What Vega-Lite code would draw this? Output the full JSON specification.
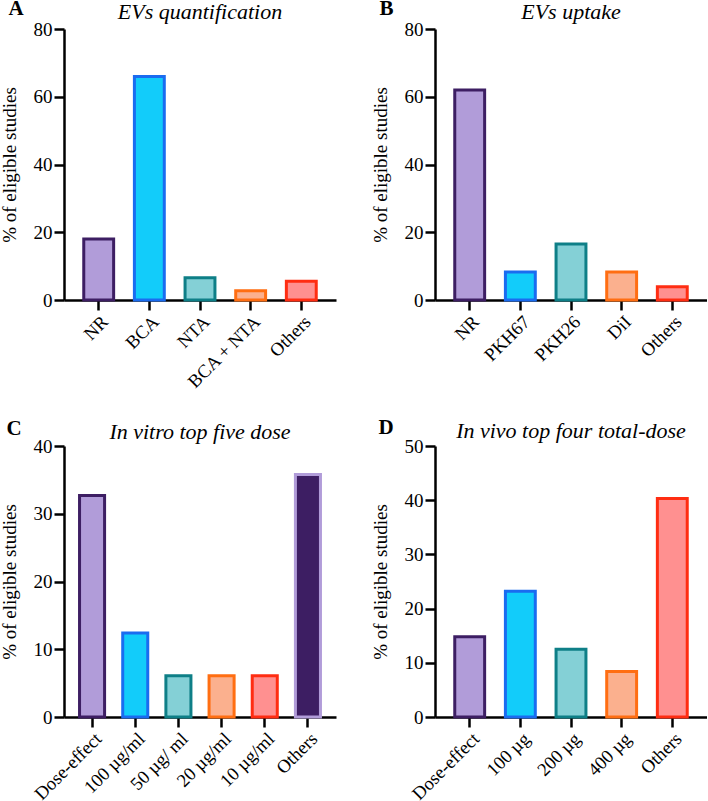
{
  "$schema": "https://vega.github.io/schema/vega-lite/v6.json",
  "background": "white",
  "padding": {"left": 0, "top": -3, "right": 0, "bottom": 0},
  "columns": 2,
  "spacing": {"row": 146, "column": 99},
  "bounds": "flush",
  "config": {
    "font": "Liberation Serif",
    "view": {"stroke": null},
    "title": {"font": "Liberation Serif", "fontSize": 22, "fontStyle": "italic", "fontWeight": "normal", "color": "black", "anchor": "middle", "frame": "group", "baseline": "alphabetic", "offset": -27},
    "axis": {"domainColor": "black", "domainWidth": 2.5, "tickColor": "black", "tickWidth": 2.5, "tickSize": 10, "labelFont": "Liberation Serif", "labelFontSize": 19, "labelColor": "black", "titleFont": "Liberation Serif", "titleFontSize": 19, "titleFontWeight": "normal", "titleColor": "black", "grid": false, "labelPadding": 2},
    "axisX": {"labelAngle": -45, "labelFontSize": 18.5, "titleAngle": 0, "titleAlign": "left", "titleBaseline": "alphabetic", "titleFontWeight": "bold", "titleFontSize": 21, "titleX": -56},
    "axisY": {"titlePadding": 14}
  },
  "resolve": {"scale": {"x": "independent", "y": "independent", "fill": "independent", "stroke": "independent"}},
  "concat": [
    {
      "width": 272, "height": 271,
      "title": {"text": "EVs quantification"},
      "data": {"values": [
        {"method": "NR", "pct": 18},
        {"method": "BCA", "pct": 66},
        {"method": "NTA", "pct": 6.6},
        {"method": "BCA + NTA", "pct": 2.7},
        {"method": "Others", "pct": 5.5}
      ]},
      "mark": {"type": "bar", "strokeWidth": 3},
      "encoding": {
        "x": {"field": "method", "type": "nominal", "sort": null, "scale": {"paddingInner": 0.41, "paddingOuter": 0.39}, "axis": {"title": "A", "titleY": -286}},
        "y": {"field": "pct", "type": "quantitative", "scale": {"domain": [0, 80], "nice": false}, "axis": {"title": "% of eligible studies", "values": [0, 20, 40, 60, 80]}},
        "fill": {"field": "method", "type": "nominal", "sort": null, "legend": null, "scale": {"domain": ["NR", "BCA", "NTA", "BCA + NTA", "Others"], "range": ["#b19cd9", "#12ccfa", "#84d0d6", "#fbb08e", "#ff9090"]}},
        "stroke": {"field": "method", "type": "nominal", "sort": null, "legend": null, "scale": {"domain": ["NR", "BCA", "NTA", "BCA + NTA", "Others"], "range": ["#3d1e63", "#1a6cf0", "#0e7f87", "#ff6e12", "#ff2d12"]}}
      }
    },
    {
      "width": 272, "height": 271,
      "title": {"text": "EVs uptake"},
      "data": {"values": [
        {"method": "NR", "pct": 62},
        {"method": "PKH67", "pct": 8.3},
        {"method": "PKH26", "pct": 16.5},
        {"method": "DiI", "pct": 8.3},
        {"method": "Others", "pct": 3.9}
      ]},
      "mark": {"type": "bar", "strokeWidth": 3},
      "encoding": {
        "x": {"field": "method", "type": "nominal", "sort": null, "scale": {"paddingInner": 0.41, "paddingOuter": 0.39}, "axis": {"title": "B", "titleY": -286}},
        "y": {"field": "pct", "type": "quantitative", "scale": {"domain": [0, 80], "nice": false}, "axis": {"title": "% of eligible studies", "values": [0, 20, 40, 60, 80]}},
        "fill": {"field": "method", "type": "nominal", "sort": null, "legend": null, "scale": {"domain": ["NR", "PKH67", "PKH26", "DiI", "Others"], "range": ["#b19cd9", "#12ccfa", "#84d0d6", "#fbb08e", "#ff9090"]}},
        "stroke": {"field": "method", "type": "nominal", "sort": null, "legend": null, "scale": {"domain": ["NR", "PKH67", "PKH26", "DiI", "Others"], "range": ["#3d1e63", "#1a6cf0", "#0e7f87", "#ff6e12", "#ff2d12"]}}
      }
    },
    {
      "width": 272, "height": 271,
      "title": {"text": "In vitro top five dose"},
      "data": {"values": [
        {"dose": "Dose-effect", "pct": 32.7},
        {"dose": "100 µg/ml", "pct": 12.4},
        {"dose": "50 µg/ ml", "pct": 6.1},
        {"dose": "20 µg/ml", "pct": 6.1},
        {"dose": "10 µg/ml", "pct": 6.1},
        {"dose": "Others", "pct": 35.8}
      ]},
      "mark": {"type": "bar", "strokeWidth": 3},
      "encoding": {
        "x": {"field": "dose", "type": "nominal", "sort": null, "scale": {"paddingInner": 0.42, "paddingOuter": 0.36}, "axis": {"title": "C", "titleY": -283, "titleX": -58}},
        "y": {"field": "pct", "type": "quantitative", "scale": {"domain": [0, 40], "nice": false}, "axis": {"title": "% of eligible studies", "values": [0, 10, 20, 30, 40]}},
        "fill": {"field": "dose", "type": "nominal", "sort": null, "legend": null, "scale": {"domain": ["Dose-effect", "100 µg/ml", "50 µg/ ml", "20 µg/ml", "10 µg/ml", "Others"], "range": ["#b19cd9", "#12ccfa", "#84d0d6", "#fbb08e", "#ff9090", "#3d1e63"]}},
        "stroke": {"field": "dose", "type": "nominal", "sort": null, "legend": null, "scale": {"domain": ["Dose-effect", "100 µg/ml", "50 µg/ ml", "20 µg/ml", "10 µg/ml", "Others"], "range": ["#3d1e63", "#1a6cf0", "#0e7f87", "#ff6e12", "#ff2d12", "#b19cd9"]}}
      }
    },
    {
      "width": 272, "height": 271,
      "title": {"text": "In vivo top four total-dose"},
      "data": {"values": [
        {"dose": "Dose-effect", "pct": 14.8},
        {"dose": "100 µg", "pct": 23.2},
        {"dose": "200 µg", "pct": 12.5},
        {"dose": "400 µg", "pct": 8.4},
        {"dose": "Others", "pct": 40.3}
      ]},
      "mark": {"type": "bar", "strokeWidth": 3},
      "encoding": {
        "x": {"field": "dose", "type": "nominal", "sort": null, "scale": {"paddingInner": 0.41, "paddingOuter": 0.39}, "axis": {"title": "D", "titleY": -284, "titleX": -57}},
        "y": {"field": "pct", "type": "quantitative", "scale": {"domain": [0, 50], "nice": false}, "axis": {"title": "% of eligible studies", "values": [0, 10, 20, 30, 40, 50]}},
        "fill": {"field": "dose", "type": "nominal", "sort": null, "legend": null, "scale": {"domain": ["Dose-effect", "100 µg", "200 µg", "400 µg", "Others"], "range": ["#b19cd9", "#12ccfa", "#84d0d6", "#fbb08e", "#ff9090"]}},
        "stroke": {"field": "dose", "type": "nominal", "sort": null, "legend": null, "scale": {"domain": ["Dose-effect", "100 µg", "200 µg", "400 µg", "Others"], "range": ["#3d1e63", "#1a6cf0", "#0e7f87", "#ff6e12", "#ff2d12"]}}
      }
    }
  ]
}
